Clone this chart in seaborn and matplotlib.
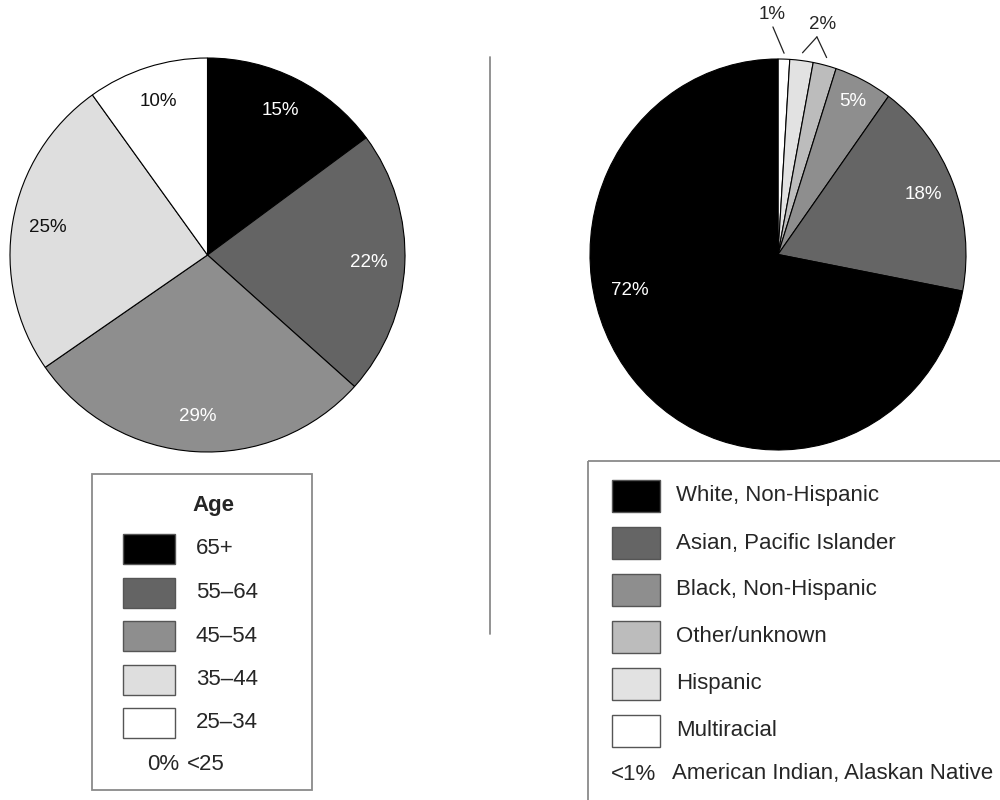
import matplotlib.pyplot as plt
import numpy as np
import seaborn as sns
from matplotlib.patches import Rectangle

# age breakdown, clockwise from 12 o'clock
age_groups = ['65+', '55–64', '45–54', '35–44', '25–34']
age_shares = [15, 22, 29, 25, 10]
age_colors = ['#000000', '#646464', '#8e8e8e', '#dedede', '#ffffff']
age_empty = ('0%', '<25')

# race / ethnicity, legend order (largest first)
race_groups = ['White, Non-Hispanic', 'Asian, Pacific Islander', 'Black, Non-Hispanic',
               'Other/unknown', 'Hispanic', 'Multiracial']
race_shares = [72, 18, 5, 2, 2, 1]
race_colors = ['#000000', '#656565', '#8e8e8e', '#bcbcbc', '#e2e2e2', '#ffffff']
race_tiny = ('<1%', 'American Indian, Alaskan Native')

sns.set_theme(style='white')
plt.rcParams['font.family'] = ['Liberation Sans', 'DejaVu Sans']

fig = plt.figure(figsize=(10, 8), dpi=100)

# overlay in pixel coords for the legend boxes and divider
overlay = fig.add_axes([0, 0, 1, 1])
overlay.set_xlim(0, 1000)
overlay.set_ylim(800, 0)
overlay.axis('off')


def draw_pie(ax, shares, colors):
    wedges, _ = ax.pie(shares, colors=colors, startangle=90, counterclock=False,
                       wedgeprops=dict(edgecolor='black', linewidth=0.8))
    for w in wedges:
        w.set_clip_on(False)
    ax.set_xlim(-1, 1)
    ax.set_ylim(-1, 1)
    ax.set_aspect('auto')
    ax.axis('off')
    return wedges


def mid_angle(wedge):
    return np.deg2rad((wedge.theta1 + wedge.theta2) / 2)


def text_color(hex_color):
    r, g, b = [int(hex_color[i:i + 2], 16) / 255 for i in (1, 3, 5)]
    return 'white' if 0.3 * r + 0.59 * g + 0.11 * b < 0.6 else '#111111'


# left pie: age
ax_age = fig.add_axes([0.010, 1 - 452 / 800, 0.395, 394 / 800])
age_wedges = draw_pie(ax_age, age_shares, age_colors)
for wedge, share, color in zip(age_wedges, age_shares, age_colors):
    ang = mid_angle(wedge)
    ax_age.text(0.82 * np.cos(ang), 0.82 * np.sin(ang), f'{share}%', ha='center', va='center',
                fontsize=13.5, color=text_color(color))

# right pie: race, drawn clockwise from the smallest slice (slightly oval in the source)
ax_race = fig.add_axes([0.590, 1 - 450 / 800, 0.376, 391 / 800])
pie_order = list(reversed(range(len(race_groups))))
race_wedges = draw_pie(ax_race, [race_shares[i] for i in pie_order], [race_colors[i] for i in pie_order])
by_name = {race_groups[i]: w for i, w in zip(pie_order, race_wedges)}

inside_labels = {'Black, Non-Hispanic': (0.88, None), 'Asian, Pacific Islander': (0.83, None),
                 'White, Non-Hispanic': (0.81, 193)}
for name, (r, ang) in inside_labels.items():
    idx = race_groups.index(name)
    ang = mid_angle(by_name[name]) if ang is None else np.deg2rad(ang)
    ax_race.text(r * np.cos(ang), r * np.sin(ang), f'{race_shares[idx]}%', ha='center', va='center',
                 fontsize=13.5, color=text_color(race_colors[idx]))

# small slices labelled outside with leader lines
multi = mid_angle(by_name['Multiracial'])
ax_race.plot([1.03 * np.cos(multi), -0.027], [1.03 * np.sin(multi), 1.164], color='#222222', lw=0.9, clip_on=False)
ax_race.text(-0.032, 1.228, '1%', ha='center', va='center', fontsize=13.5)
apex = (0.207, 1.113)
for name in ['Hispanic', 'Other/unknown']:
    a = mid_angle(by_name[name])
    ax_race.plot([apex[0], 1.04 * np.cos(a)], [apex[1], 1.04 * np.sin(a)], color='#222222', lw=0.9, clip_on=False)
ax_race.text(0.239, 1.176, '2%', ha='center', va='center', fontsize=13.5)

# divider
overlay.plot([490, 490], [57, 634], color='#8a8a8a', lw=1.3)

# age legend
overlay.add_patch(Rectangle((92, 474), 220, 316, fill=False, edgecolor='#8a8a8a', lw=1.3))
overlay.text(213, 506, 'Age', ha='center', va='center', fontsize=16, fontweight='bold')
for i, (name, color) in enumerate(zip(age_groups, age_colors)):
    y = 549 + i * 43.5
    overlay.add_patch(Rectangle((123, y - 15), 52, 30, facecolor=color, edgecolor='#555555', lw=1))
    overlay.text(196, y, name, ha='left', va='center', fontsize=16)
overlay.text(147, 765, age_empty[0], ha='left', va='center', fontsize=16)
overlay.text(187, 765, age_empty[1], ha='left', va='center', fontsize=16)

# race legend (box runs off the right and bottom edges)
overlay.add_patch(Rectangle((588, 461), 440, 400, fill=False, edgecolor='#8a8a8a', lw=1.3))
for i, (name, color) in enumerate(zip(race_groups, race_colors)):
    y = 496 + i * 47
    overlay.add_patch(Rectangle((612, y - 16), 48, 32, facecolor=color, edgecolor='#555555', lw=1))
    overlay.text(676, y, name, ha='left', va='center', fontsize=16)
overlay.text(611, 774, race_tiny[0], ha='left', va='center', fontsize=16)
overlay.text(672, 774, race_tiny[1], ha='left', va='center', fontsize=16)

fig.savefig('out.png', dpi=100)
